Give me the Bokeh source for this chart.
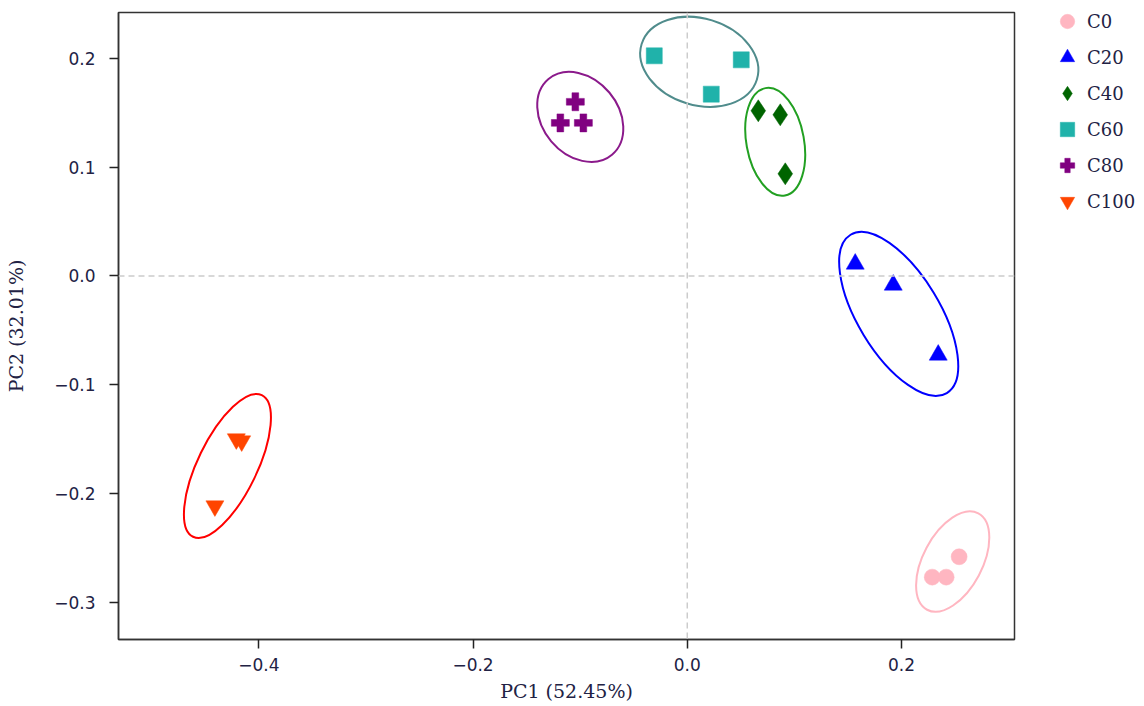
from bokeh.plotting import figure
from bokeh.models import (Span, Legend, LegendItem, FixedTicker, CustomJSTickFormatter,
                          Range1d, ColumnDataSource)
from bokeh.embed import file_html
from bokeh.resources import INLINE

# ---------------- data ----------------
groups = ["C0", "C20", "C40", "C60", "C80", "C100"]
pc1 = {
    "C0":   [0.2287, 0.2417, 0.2538],
    "C20":  [0.1568, 0.1923, 0.2343],
    "C40":  [0.0663, 0.0868, 0.0915],
    "C60":  [-0.0308, 0.0224, 0.0504],
    "C80":  [-0.1045, -0.1185, -0.0970],
    "C100": [-0.4210, -0.4160, -0.4410],
}
pc2 = {
    "C0":   [-0.2767, -0.2767, -0.2580],
    "C20":  [0.0110, -0.0083, -0.0726],
    "C40":  [0.1517, 0.1480, 0.0938],
    "C60":  [0.2022, 0.1670, 0.1985],
    "C80":  [0.1600, 0.1406, 0.1406],
    "C100": [-0.1498, -0.1517, -0.2114],
}
# confidence ellipses: centre, full axes (data units), angle (deg)
ell_cx = [0.2478, 0.1974, 0.0821, 0.0112, -0.0999, -0.4293]
ell_cy = [-0.2624, -0.0349, 0.1232, 0.1967, 0.1461, -0.1746]
ell_w = [0.1019, 0.1730, 0.1019, 0.1126, 0.0922, 0.1469]
ell_h = [0.0544, 0.0752, 0.0529, 0.0796, 0.0697, 0.0544]
ell_angle = [62.0, -58.7, -79.7, -17.1, -50.0, 64.1]

x_ticks = [-0.4, -0.2, 0.0, 0.2]
y_ticks = [-0.3, -0.2, -0.1, 0.0, 0.1, 0.2]
x_label = "PC1 (52.45%)"
y_label = "PC2 (32.01%)"

# ---------------- styles ----------------
markers = ["circle", "triangle", "diamond", "square", "plus", "inverted_triangle"]
sizes = [16, 18, 22, 16, 18, 18]
mcolors = ["#FFB6C1", "#0000FF", "#006400", "#20B2AA", "#800080", "#FF4500"]
ecolors = ["#FFB6C1", "#0000FF", "#22A022", "#508C8C", "#8B1A8B", "#FF0000"]

SERIF = "DejaVu Serif"
SANS = "DejaVu Sans"
TXT = "#222244"

p = figure(frame_width=896, frame_height=627, output_backend="svg",
           toolbar_location=None, min_border_left=118, min_border_top=12,
           min_border_bottom=64, min_border_right=126,
           x_range=Range1d(-0.531, 0.3055), y_range=Range1d(-0.334, 0.242))
p.grid.visible = False
p.outline_line_color = "#333333"
p.outline_line_width = 1.5

p.add_layout(Span(location=0, dimension="height", line_color="#cccccc",
                  line_dash="6 4", line_width=1.5))
p.add_layout(Span(location=0, dimension="width", line_color="#cccccc",
                  line_dash="6 4", line_width=1.5))

items = []
for i, g in enumerate(groups):
    p.ellipse(x=[ell_cx[i]], y=[ell_cy[i]], width=[ell_w[i]], height=[ell_h[i]],
              angle=[ell_angle[i]], angle_units="deg", fill_color=None,
              line_color=ecolors[i], line_width=2)
for i, g in enumerate(groups):
    src = ColumnDataSource(dict(x=pc1[g], y=pc2[g]))
    r = p.scatter("x", "y", source=src, marker=markers[i], size=sizes[i],
                  fill_color=mcolors[i], line_color=mcolors[i], line_width=0.5)
    items.append(LegendItem(label=g, renderers=[r]))

fmt = CustomJSTickFormatter(code="return tick.toFixed(1).replace('-', '\\u2212');")
for ax, ticks in ((p.xaxis[0], x_ticks), (p.yaxis[0], y_ticks)):
    ax.ticker = FixedTicker(ticks=ticks)
    ax.formatter = fmt
    ax.minor_tick_line_color = None
    ax.major_tick_out = 9
    ax.major_tick_in = 0
    ax.major_tick_line_color = "#222222"
    ax.major_tick_line_width = 1.5
    ax.axis_line_color = "#333333"
    ax.axis_line_width = 1.5
    ax.major_label_text_font = SANS
    ax.major_label_text_font_size = "17px"
    ax.major_label_text_color = TXT
    ax.axis_label_text_font = SERIF
    ax.axis_label_text_font_size = "19px"
    ax.axis_label_text_font_style = "normal"
    ax.axis_label_text_color = TXT
p.xaxis.axis_label = x_label
p.yaxis.axis_label = y_label
p.xaxis.major_label_standoff = 9
p.yaxis.major_label_standoff = 14
p.xaxis.axis_label_standoff = 6
p.yaxis.axis_label_standoff = 24

legend = Legend(items=items, location=(33, 420), orientation="vertical",
                glyph_width=40, glyph_height=36, label_height=20, spacing=0,
                padding=0, margin=0, label_standoff=0,
                label_text_font=SERIF, label_text_font_size="18px",
                label_text_color=TXT, border_line_color=None,
                background_fill_alpha=0)
p.add_layout(legend, "right")

open("out.html", "w").write(file_html(p, INLINE))
